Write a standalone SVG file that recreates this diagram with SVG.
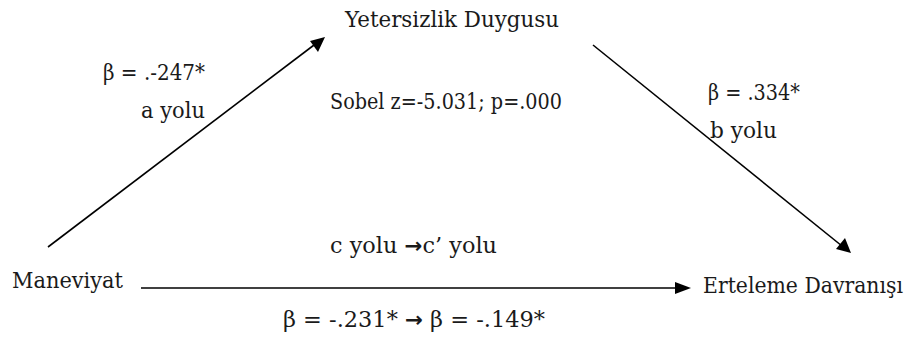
<svg xmlns="http://www.w3.org/2000/svg" width="920" height="342" viewBox="0 0 920 342">
<style>
text{font-family:"DejaVu Serif","Liberation Serif",serif;font-size:22px;fill:#1a1a1a}
.ar{font-family:"DejaVu Sans",sans-serif;font-weight:bold;font-size:21px}
.c{stroke:#000;stroke-width:1.6;fill:none}
.h{fill:#000}
</style>
<rect width="920" height="342" fill="#fff"/>
<g id="connectors">
<line class="c" x1="48" y1="247" x2="318" y2="42"/>
<path class="h" d="M325,37 L310,41 L318,52 Z"/>
<line class="c" x1="593" y1="45" x2="842" y2="246"/>
<path class="h" d="M851,253 L836,249 L845,238 Z"/>
<line class="c" x1="141" y1="288" x2="676" y2="288"/>
<path class="h" d="M691,288 L675,282 L675,294 Z"/>
</g>
<g id="yetersizlik"><text x="345" y="27" textLength="214" lengthAdjust="spacingAndGlyphs">Yetersizlik Duygusu</text></g>
<g id="maneviyat"><text x="12" y="288" textLength="111" lengthAdjust="spacingAndGlyphs">Maneviyat</text></g>
<g id="erteleme"><text x="703" y="293" textLength="200" lengthAdjust="spacingAndGlyphs">Erteleme Davranışı</text></g>
<g id="labels">
<text x="103" y="80" textLength="102" lengthAdjust="spacingAndGlyphs">β = .-247*</text>
<text x="141" y="118" textLength="64" lengthAdjust="spacingAndGlyphs">a yolu</text>
<text x="330" y="109" textLength="232" lengthAdjust="spacingAndGlyphs">Sobel z=-5.031; p=.000</text>
<text x="708" y="100" textLength="92" lengthAdjust="spacingAndGlyphs">β = .334*</text>
<text x="710" y="138" textLength="67" lengthAdjust="spacingAndGlyphs">b yolu</text>
<text x="330" y="253" textLength="167" lengthAdjust="spacingAndGlyphs">c yolu <tspan class="ar">→</tspan>c’ yolu</text>
<text x="283" y="327" textLength="262" lengthAdjust="spacingAndGlyphs">β = -.231*  <tspan class="ar">→</tspan>  β = -.149*</text>
</g>
</svg>
